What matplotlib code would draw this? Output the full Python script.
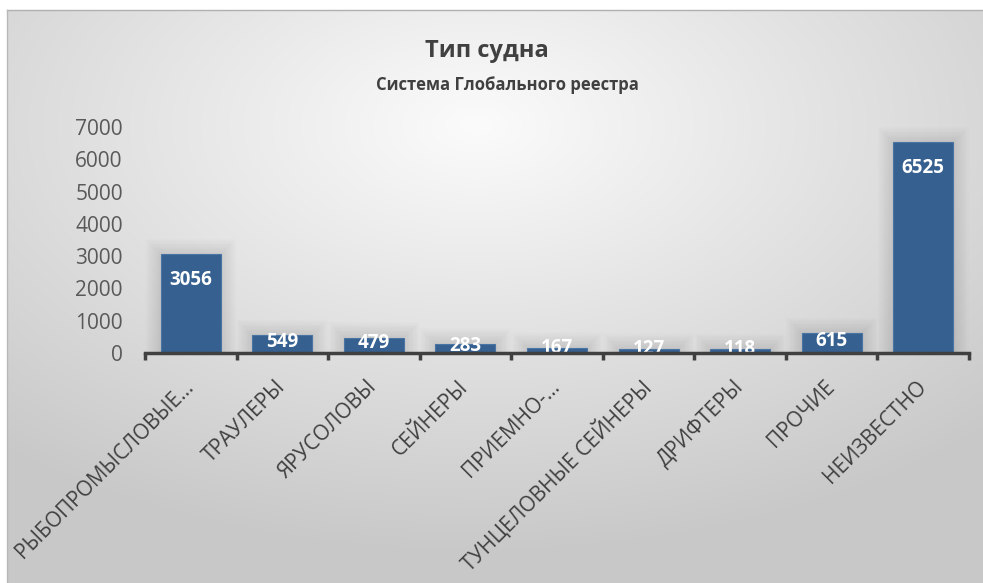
import matplotlib.pyplot as plt
import numpy as np

# data
categories = ["РЫБОПРОМЫСЛОВЫЕ…", "ТРАУЛЕРЫ", "ЯРУСОЛОВЫ", "СЕЙНЕРЫ", "ПРИЕМНО-…",
              "ТУНЦЕЛОВНЫЕ СЕЙНЕРЫ", "ДРИФТЕРЫ", "ПРОЧИЕ", "НЕИЗВЕСТНО"]
values = [3056, 549, 479, 283, 167, 127, 118, 615, 6525]
yticks = [0, 1000, 2000, 3000, 4000, 5000, 6000, 7000]

plt.rcParams['font.family'] = ['Open Sans', 'DejaVu Sans']

W, H = 983, 583
fig = plt.figure(figsize=(W / 100, H / 100), dpi=100)
fig.patch.set_facecolor('white')

# background: radial gradient like the Excel chart area
bg = fig.add_axes([7 / W, 0, (W - 7) / W, (H - 10) / H])
yy, xx = np.mgrid[0:300, 0:500]
cx, cy = 240, 60
r = np.sqrt(((xx - cx) / 500.0) ** 2 + ((yy - cy) / 300.0) ** 2)
r = np.clip(r / 0.75, 0, 1)
shade = 0.985 - 0.2 * r
bg.imshow(np.dstack([shade, shade, shade]), aspect='auto', extent=[0, 1, 0, 1], origin='upper')
bg.set_axis_off()
bg.plot([0, 1], [1, 1], color='#b0b0b0', lw=1, transform=bg.transAxes, clip_on=False)
bg.plot([0, 0], [0, 1], color='#b8b8b8', lw=1, transform=bg.transAxes, clip_on=False)

ax = fig.add_axes([145 / W, (H - 353) / H, (969 - 145) / W, (353 - 127) / H])
ax.patch.set_alpha(0)

x = np.arange(len(categories))
bw = 0.655
px_x = 1 / 91.6
px_y = 7000 / 226.0

# soft shadow behind the bars
for k in range(1, 13):
    d = 1.3 * k
    ax.bar(x, np.array(values) + d * px_y, width=bw + 2 * d * px_x,
           bottom=0, color='black', alpha=0.008, linewidth=0, zorder=1)

ax.bar(x, values, width=bw, color='#35608f', edgecolor='#4a74a3', linewidth=0.8, zorder=3)

for xi, v in zip(x, values):
    yl = max(v - 26 * px_y, v / 2 + 2 * px_y)
    ax.text(xi, yl, str(v), ha='center', va='center', color='white',
            fontsize=13.5, fontweight='bold', zorder=4)

ax.set_xlim(-0.5, len(categories) - 0.5)
ax.set_ylim(0, 7000)
ax.set_yticks(yticks)
ax.set_yticklabels([str(t) for t in yticks])
ax.tick_params(axis='y', length=0, pad=16, labelsize=15, labelcolor='#595959')

for s in ['top', 'right', 'left']:
    ax.spines[s].set_visible(False)
ax.spines['bottom'].set_color('#404040')
ax.spines['bottom'].set_linewidth(2.5)
ax.spines['bottom'].set_zorder(5)

ax.set_xticks(np.arange(len(categories) + 1) - 0.5)
ax.set_xticklabels([])
ax.tick_params(axis='x', which='major', length=5, width=2.5, color='#404040', direction='out')
ax.set_xticks(x, minor=True)
ax.set_xticklabels(categories, minor=True, rotation=45, ha='right', va='center',
                   rotation_mode='anchor', fontsize=15, color='#404040')
ax.tick_params(axis='x', which='minor', length=0, pad=22)

fig.text(487 / W, 1 - 51 / H, "Тип судна", ha='center', va='center',
         fontsize=17, fontweight='bold', color='#404040')
fig.text(507 / W, 1 - 85 / H, "Система Глобального реестра", ha='center', va='center',
         fontsize=12, fontweight='bold', color='#404040')

fig.savefig('out.png', dpi=100)
